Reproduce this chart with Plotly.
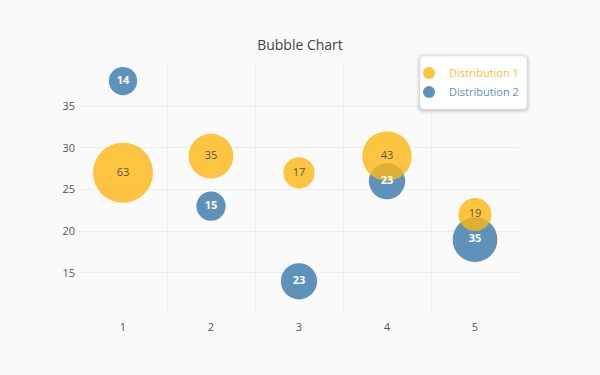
import plotly.graph_objects as go

categories = ["1", "2", "3", "4", "5"]
d1_y = [27, 29, 27, 29, 22]
d1_size = [63, 35, 17, 43, 19]
d2_y = [38, 23, 14, 26, 19]
d2_size = [14, 15, 23, 23, 35]

yellow = "rgba(252,182,18,0.8)"
blue = "rgb(94,146,187)"
SIZEREF = 0.035

fig = go.Figure()
# Distribution 2 markers (drawn beneath)
fig.add_trace(go.Scatter(
    x=categories, y=d2_y, mode="markers",
    name="<span style='color:rgb(94,146,187)'>Distribution 2</span>",
    legendrank=2,
    marker=dict(size=d2_size, sizemode="area", sizeref=SIZEREF, color=blue,
                opacity=1, line=dict(width=0)),
    hoverinfo="skip",
))
fig.add_trace(go.Scatter(
    x=categories, y=d1_y, mode="markers+text",
    name="<span style='color:rgb(250,190,50)'>Distribution 1</span>",
    legendrank=1,
    text=[str(v) for v in d1_size], textposition="middle center",
    textfont=dict(size=11, color="#555"),
    marker=dict(size=d1_size, sizemode="area", sizeref=SIZEREF, color=yellow,
                opacity=1, line=dict(width=0)),
    hoverinfo="skip",
))
# Distribution 2 labels on top
fig.add_trace(go.Scatter(
    x=categories, y=d2_y, mode="text",
    text=["<b>%d</b>" % v for v in d2_size], textposition="middle center",
    textfont=dict(size=11, color="white"),
    showlegend=False, hoverinfo="skip",
))


def rrect(x0, y0, x1, y1, r):
    return (f"M{x0+r},{y0} L{x1-r},{y0} Q{x1},{y0} {x1},{y0+r} "
            f"L{x1},{y1-r} Q{x1},{y1} {x1-r},{y1} L{x0+r},{y1} "
            f"Q{x0},{y1} {x0},{y1-r} L{x0},{y0+r} Q{x0},{y0} {x0+r},{y0} Z")


# legend box (pixel offsets relative to plot's top-right corner; y up)
bx0, bx1, by0, by1 = -99, 8, -43, 10
shapes = []
for grow, op in [(4, 0.025), (3, 0.03), (2, 0.04), (1, 0.05)]:
    shapes.append(dict(type="path", xref="paper", yref="paper",
                       xsizemode="pixel", ysizemode="pixel", xanchor=1, yanchor=1,
                       path=rrect(bx0 - grow, by0 - grow - 1, bx1 + grow, by1 + grow - 1, 4 + grow),
                       fillcolor=f"rgba(0,0,0,{op})", line=dict(width=0), layer="above"))
shapes.append(dict(type="path", xref="paper", yref="paper",
                   xsizemode="pixel", ysizemode="pixel", xanchor=1, yanchor=1,
                   path=rrect(bx0, by0, bx1, by1, 4),
                   fillcolor="white", line=dict(width=0.6, color="#e6e6e6"), layer="above"))

fig.update_layout(
    width=600, height=375,
    paper_bgcolor="#fafafa", plot_bgcolor="#fafafa",
    font=dict(family="Open Sans, sans-serif", size=11, color="#555"),
    title=dict(text="Bubble Chart", x=0.5, xanchor="center", y=0.88, yanchor="middle",
               font=dict(size=14, color="#444")),
    margin=dict(l=79, r=81, t=66, b=62),
    showlegend=True,
    shapes=shapes,
    legend=dict(x=0.75, xanchor="left", y=1.03, yanchor="top",
                bgcolor="rgba(0,0,0,0)", borderwidth=0,
                itemsizing="constant", font=dict(size=11)),
    xaxis=dict(type="category", range=[-0.5, 4.5], tickson="boundaries",
               showgrid=True, gridcolor="#eeeeee", zeroline=False, showline=False,
               ticks="", ticklabelstandoff=6),
    yaxis=dict(range=[10.2, 39.8], dtick=5, tick0=0, showgrid=True,
               gridcolor="#eeeeee", zeroline=False, showline=False,
               ticks="", ticklabelstandoff=3),
)

fig.write_html("out.html", config={"displayModeBar": False},
               post_script="document.body.style.margin='0';")
